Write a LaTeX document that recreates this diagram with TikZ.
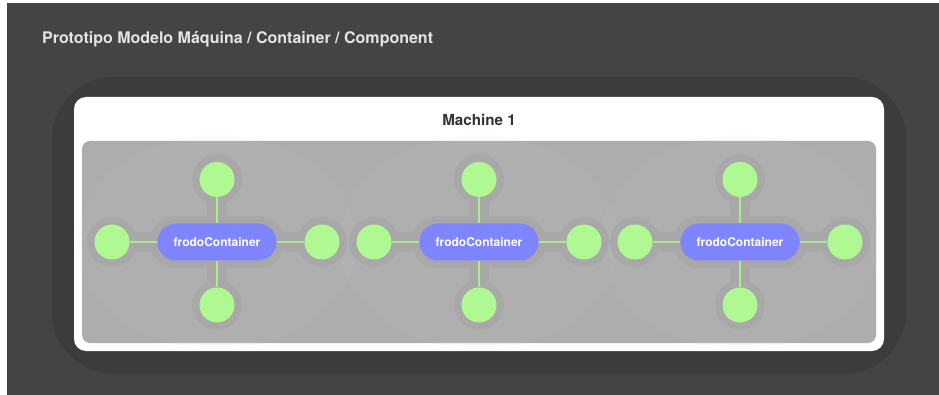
\documentclass[tikz,border=0pt]{standalone}
\usepackage{fontspec}
\setmainfont{TeX Gyre Heros}
\definecolor{pagebg}{HTML}{444444}
\definecolor{shadowbg}{HTML}{3C3C3C}
\definecolor{areagray}{HTML}{ADADAD}
\definecolor{halogray}{HTML}{A8A8A8}
\definecolor{groupglow}{HTML}{D2D2D2}
\definecolor{pillblue}{HTML}{7F85FF}
\definecolor{compgreen}{HTML}{B0F892}
\definecolor{linkgreen}{HTML}{A8EC8C}
\definecolor{titlegray}{HTML}{E4E4E4}
\definecolor{labeldark}{HTML}{333333}
\tikzset{
  container/.style={draw=none, fill=pillblue, rounded corners=18.5pt,
    minimum width=119pt, minimum height=37pt, inner sep=0pt,
    text=white, font=\bfseries\fontsize{12}{14}\selectfont},
  component/.style={circle, draw=none, fill=compgreen, minimum size=35pt, inner sep=0pt},
  link/.style={draw=linkgreen, line width=1.2pt},
  haloblob/.style={fill=halogray},
  haloneck/.style={draw=halogray, line width=20pt}
}
\begin{document}
\begin{tikzpicture}[x=1pt, y=-1pt]
\useasboundingbox (0,0) rectangle (939,395);
% page and machine frame
\fill[white] (0,0) rectangle (939,395);
\fill[pagebg] (7,3) rectangle (939,395);
\fill[shadowbg, rounded corners=62pt] (52,77) rectangle (906,374);
\fill[white, rounded corners=12pt] (74,97) rectangle (884,351);
\fill[areagray, rounded corners=8pt] (82,141) rectangle (876,343);

\node[anchor=base west, text=titlegray, inner sep=0pt,
      font=\bfseries\fontsize{16}{19}\selectfont] (title) at (42,44)
  {Prototipo Modelo Máquina / Container / Component};
\node[anchor=base, text=labeldark, inner sep=0pt,
      font=\bfseries\fontsize{15.2}{18}\selectfont] (machine) at (479,125.5) {Machine 1};

% soft glow behind each container group
\foreach \cx in {217,479,740}{
  \fill[groupglow, opacity=0.07] (\cx,242) ellipse [x radius=140, y radius=107];
}
% halo blobs around each container and its components
\foreach \cx in {217,479,740}{
  \draw[haloneck] (\cx,242) -- (\cx-105,242);
  \draw[haloneck] (\cx,242) -- (\cx+105,242);
  \draw[haloneck] (\cx,242) -- (\cx,179);
  \draw[haloneck] (\cx,242) -- (\cx,305);
  \fill[haloblob, rounded corners=26pt] (\cx-67.5,216) rectangle (\cx+67.5,268);
  \fill[haloblob] (\cx-105,242) circle (25);
  \fill[haloblob] (\cx+105,242) circle (25);
  \fill[haloblob] (\cx,179) circle (25);
  \fill[haloblob] (\cx,305) circle (25);
}

% containers with their four components
\foreach \g/\cx in {1/217,2/479,3/740}{
  \node[container] (c\g) at (\cx,242) {frodoContainer};
  \node[component] (c\g l) at (\cx-105,242) {};
  \node[component] (c\g r) at (\cx+105,242) {};
  \node[component] (c\g t) at (\cx,179.5) {};
  \node[component] (c\g b) at (\cx,305) {};
  \draw[link] (c\g) -- (c\g l);
  \draw[link] (c\g) -- (c\g r);
  \draw[link] (c\g) -- (c\g t);
  \draw[link] (c\g) -- (c\g b);
}
\end{tikzpicture}
\end{document}
